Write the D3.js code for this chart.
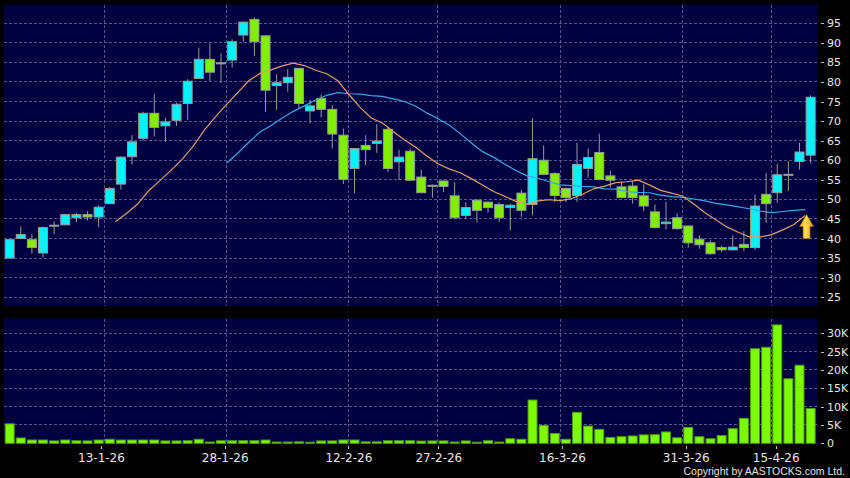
<!DOCTYPE html>
<meta charset="utf-8">
<script src="https://cdn.jsdelivr.net/npm/d3@7"></script>
<style>
  body { margin: 0; background: #000; }
  svg { display: block; }
  .grid line { stroke: #56568a; stroke-dasharray: 3,2; shape-rendering: crispEdges; }
  .axis text { fill: #e6e6e6; font-family: "DejaVu Sans", sans-serif; font-size: 11px; }
  .axis line { stroke: #bdbdbd; shape-rendering: crispEdges; }
  .axis path { display: none; }
</style>
<body>
<script>

// trading days shown on the chart
var dates = ["31-12-25","2-1-26","5-1-26","6-1-26","7-1-26","8-1-26","9-1-26","12-1-26","13-1-26","14-1-26",
  "15-1-26","16-1-26","19-1-26","20-1-26","21-1-26","22-1-26","23-1-26","26-1-26","27-1-26","28-1-26",
  "29-1-26","30-1-26","2-2-26","3-2-26","4-2-26","5-2-26","6-2-26","9-2-26","10-2-26","11-2-26",
  "12-2-26","13-2-26","16-2-26","20-2-26","23-2-26","24-2-26","25-2-26","26-2-26","27-2-26","2-3-26",
  "3-3-26","4-3-26","5-3-26","6-3-26","9-3-26","10-3-26","11-3-26","12-3-26","13-3-26","16-3-26",
  "17-3-26","18-3-26","19-3-26","20-3-26","23-3-26","24-3-26","25-3-26","26-3-26","27-3-26","30-3-26",
  "31-3-26","1-4-26","2-4-26","8-4-26","9-4-26","10-4-26","13-4-26","14-4-26","15-4-26","16-4-26",
  "17-4-26","20-4-26","21-4-26"];

var opens = [35.0,40.0,39.7,36.3,43.4,43.5,45.3,46.1,45.5,48.9,
  53.9,60.9,65.6,72.0,68.8,70.2,74.5,80.9,85.8,84.9,
  85.6,92.0,96.0,91.8,79.1,79.8,83.5,72.6,75.8,73.0,
  66.4,57.9,63.8,64.3,67.9,59.6,62.3,55.7,53.6,54.7,
  50.9,45.9,49.8,49.3,48.7,47.9,51.6,48.7,60.0,56.6,
  52.8,51.0,57.9,62.0,56.0,53.2,53.4,50.9,46.8,43.8,
  45.3,43.2,39.8,38.9,37.7,37.1,38.5,37.7,51.3,51.7,
  56.4,59.7,61.3];
var highs = [40.0,43.1,41.1,43.1,44.4,46.2,46.5,47.0,48.5,53.2,
  61.0,66.4,72.4,76.9,70.9,74.7,80.7,88.8,89.9,87.3,
  90.9,95.4,96.5,91.9,82.0,83.3,83.6,75.4,76.8,74.1,
  68.1,63.1,66.4,69.2,68.5,62.7,63.0,57.6,53.8,54.8,
  54.4,49.3,50.0,49.4,49.3,48.9,52.5,70.7,63.8,57.0,
  53.0,64.5,63.0,66.8,57.3,54.5,54.7,53.9,48.7,49.3,
  46.4,43.3,40.8,39.5,38.2,40.8,41.9,51.3,56.8,59.0,
  59.8,64.5,76.6];
var lows = [35.0,39.8,36.1,35.1,41.1,43.4,44.2,44.6,42.9,48.9,
  52.5,59.0,65.0,66.1,64.7,68.8,70.2,80.9,80.2,79.8,
  83.7,90.3,86.6,72.4,72.8,77.5,73.2,69.4,70.9,63.0,
  53.9,51.5,58.7,61.9,57.0,54.9,54.8,51.7,50.4,51.9,
  44.9,44.9,44.1,46.6,44.2,42.1,45.5,45.9,56.2,49.3,
  49.3,49.3,55.6,54.9,53.0,50.3,48.9,47.0,42.6,42.3,
  42.3,37.7,37.4,35.9,36.5,36.9,36.8,37.0,44.0,49.1,
  52.1,57.6,59.2];
var closes = [39.7,41.0,37.7,42.8,43.4,46.1,46.1,45.5,48.0,52.8,
  60.8,64.7,72.0,68.4,69.8,74.3,80.2,85.8,82.5,84.9,
  90.3,95.3,90.3,77.9,79.8,81.2,74.5,73.9,73.0,66.7,
  55.1,63.0,62.7,64.9,57.9,60.8,54.9,51.7,53.6,53.3,
  45.3,47.9,47.2,47.9,45.3,48.5,47.2,60.4,56.4,51.0,
  50.5,58.9,60.7,55.1,54.9,50.5,50.5,48.3,42.8,44.2,
  42.5,38.9,38.4,36.1,37.1,37.8,37.7,48.3,48.9,56.3,
  56.4,62.1,76.1];

var volumes = [5300,1450,900,900,650,900,700,650,900,1100,
  900,900,900,900,650,650,700,1100,350,700,
  700,700,700,900,350,350,400,300,650,650,
  900,900,400,400,700,700,700,600,650,650,
  350,650,300,700,350,1250,1100,11800,4900,2700,
  1100,8450,4700,3800,1600,1800,2000,2300,2350,3100,
  1500,4350,1800,1250,2100,4000,6800,25800,26200,32300,
  17600,21300,9500];

// moving averages as drawn (10-day from day 9, 20-day from day 19)
var ma10Start = 9;
var ma10 = [44.3,46.4,48.8,52.2,54.8,57.4,60.2,63.6,67.7,71.1,
  74.3,77.3,80.3,82.2,83.1,84.1,84.8,84.2,83.0,82.1,
  80.3,76.8,73.5,70.8,69.5,67.3,65.2,63.3,61.1,59.1,
  57.8,56.8,55.3,53.7,52.0,50.8,49.5,48.8,49.6,49.9,
  49.7,50.2,51.3,52.7,53.4,54.3,54.5,54.9,53.7,52.3,
  51.6,50.8,48.8,46.6,44.7,42.9,41.6,40.4,40.4,41.0,
  42.2,43.6,45.9];
var ma20Start = 19;
var ma20 = [59.3,61.8,64.6,67.2,68.9,70.8,72.5,73.9,75.4,76.6,
  77.3,77.0,76.9,76.5,76.3,75.7,75.0,73.8,72.1,70.6,
  69.0,66.8,64.4,62.2,60.8,59.0,57.4,56.0,55.4,54.5,
  53.7,53.5,53.3,53.2,52.7,52.6,52.0,51.8,51.7,51.1,
  50.7,50.5,50.1,49.6,49.0,48.6,48.1,47.6,47.0,46.6,
  46.9,47.2,47.4];

var priceTicks = [25,30,35,40,45,50,55,60,65,70,75,80,85,90,95];
var volumeTicks = [0,5000,10000,15000,20000,25000,30000];
var dateTicks = ["13-1-26","28-1-26","12-2-26","27-2-26","16-3-26","31-3-26","15-4-26"];

var width = 850,
    height = 478,
    left = 4,
    right = 817.5,
    priceTop = 5,
    priceBottom = 306,
    volTop = 318.5,
    volBottom = 444;

var candles = dates.map(function(d, i) {
  return {date: d, o: opens[i], h: highs[i], l: lows[i], c: closes[i], v: volumes[i]};
});

var x = d3.scaleBand()
    .domain(dates)
    .range([4.1, 816.2]);
var step = x.step();
function cx(d) { return x(d) + step / 2; }

// label positions run on a slightly wider scale than the bars
var tx = d3.scaleLinear().domain([0, dates.length - 1]).range([11.0, 820.7]);

var y = d3.scaleLinear().domain([25, 95]).range([297.2, 23.3]);
var yv = d3.scaleLinear().domain([0, 30000]).range([443.3, 333.3]);

var svg = d3.select("body").append("svg")
    .attr("width", width)
    .attr("height", height);

svg.append("rect")
    .attr("width", width).attr("height", height)
    .attr("fill", "#000");

// panels
svg.append("rect")
    .attr("x", left).attr("y", priceTop)
    .attr("width", right - left).attr("height", priceBottom - priceTop)
    .attr("fill", "#000040");
svg.append("rect")
    .attr("x", left).attr("y", volTop)
    .attr("width", right - left).attr("height", volBottom - volTop)
    .attr("fill", "#000040");

// grid
var grid = svg.append("g").attr("class", "grid");
grid.selectAll(".hp")
    .data(priceTicks)
    .enter().append("line")
    .attr("x1", left).attr("x2", right)
    .attr("y1", function(d) { return y(d); })
    .attr("y2", function(d) { return y(d); });
grid.selectAll(".hv")
    .data(volumeTicks.slice(1))
    .enter().append("line")
    .attr("x1", left).attr("x2", right)
    .attr("y1", function(d) { return yv(d); })
    .attr("y2", function(d) { return yv(d); });
dateTicks.forEach(function(t) {
  var gx = x(t) + step;
  grid.append("line")
      .attr("x1", gx).attr("x2", gx)
      .attr("y1", priceTop).attr("y2", priceBottom);
  grid.append("line")
      .attr("x1", gx).attr("x2", gx)
      .attr("y1", volTop).attr("y2", volBottom);
});

// candles
var candleStroke = "#9a9a9a";
var cg = svg.append("g");
cg.selectAll(".wick")
    .data(candles)
    .enter().append("line")
    .attr("x1", function(d) { return cx(d.date); })
    .attr("x2", function(d) { return cx(d.date); })
    .attr("y1", function(d) { return y(d.h); })
    .attr("y2", function(d) { return y(d.l); })
    .attr("stroke", candleStroke)
    .attr("stroke-width", 1);

cg.selectAll(".body")
    .data(candles)
    .enter().append("rect")
    .attr("x", function(d) { return cx(d.date) - 4.5; })
    .attr("width", 9)
    .attr("y", function(d) { return y(Math.max(d.o, d.c)); })
    .attr("height", function(d) { return Math.max(1, Math.abs(y(d.o) - y(d.c))); })
    .attr("fill", function(d) {
      if (d.c > d.o) return "#00f4ff";
      if (d.c < d.o) return "#80f000";
      return candleStroke;
    })
    .attr("stroke", candleStroke)
    .attr("stroke-width", 1);

// moving averages
var line = d3.line()
    .x(function(d) { return x(d.date) + step; })
    .y(function(d) { return y(d.v); });

var ma10Pts = ma10.map(function(v, i) { return {date: dates[ma10Start + i], v: v}; });
var ma20Pts = ma20.map(function(v, i) { return {date: dates[ma20Start + i], v: v}; });

svg.append("path")
    .datum(ma20Pts)
    .attr("d", line)
    .attr("fill", "none")
    .attr("stroke", "#3fa2e6")
    .attr("stroke-width", 1.2);
svg.append("path")
    .datum(ma10Pts)
    .attr("d", line)
    .attr("fill", "none")
    .attr("stroke", "#e39a6e")
    .attr("stroke-width", 1.2);

// up arrow marker
var defs = svg.append("defs");
var grad = defs.append("linearGradient")
    .attr("id", "arrowGrad")
    .attr("x1", "0%").attr("x2", "100%").attr("y1", "0%").attr("y2", "0%");
grad.append("stop").attr("offset", "0%").attr("stop-color", "#f5b800");
grad.append("stop").attr("offset", "45%").attr("stop-color", "#ffe24a");
grad.append("stop").attr("offset", "100%").attr("stop-color", "#e09400");

var ax = x(dates[dates.length - 1]) + 1.5,
    ay = y(ma20[ma20.length - 1]) + 5;
svg.append("path")
    .attr("d", "M" + ax + "," + ay +
      "L" + (ax + 7) + "," + (ay + 12) +
      "L" + (ax + 3.5) + "," + (ay + 12) +
      "L" + (ax + 3.5) + "," + (ay + 24) +
      "L" + (ax - 3.5) + "," + (ay + 24) +
      "L" + (ax - 3.5) + "," + (ay + 12) +
      "L" + (ax - 7) + "," + (ay + 12) + "Z")
    .attr("fill", "url(#arrowGrad)")
    .attr("stroke", "#a87000")
    .attr("stroke-width", 0.6);

// volume bars
svg.append("g").selectAll("rect")
    .data(candles)
    .enter().append("rect")
    .attr("x", function(d) { return cx(d.date) - 4.5; })
    .attr("width", 9)
    .attr("y", function(d) { return yv(d.v); })
    .attr("height", function(d) { return yv(0) - yv(d.v); })
    .attr("fill", "#7cfc00")
    .attr("stroke", "#4f9a10")
    .attr("stroke-width", 1);

// axes
svg.append("g")
    .attr("class", "axis")
    .attr("transform", "translate(821,0)")
    .call(d3.axisRight(y).tickValues(priceTicks).tickSize(3).tickPadding(3));

svg.append("g")
    .attr("class", "axis")
    .attr("transform", "translate(821,0)")
    .call(d3.axisRight(yv).tickValues(volumeTicks).tickSize(3).tickPadding(3)
      .tickFormat(function(d) { return d === 0 ? "0" : (d / 1000) + "K"; }));

svg.append("g")
    .attr("class", "axis")
    .attr("transform", "translate(0,446)")
    .call(d3.axisBottom(tx)
      .tickValues(dateTicks.map(function(t) { return dates.indexOf(t); }))
      .tickFormat(function(i) { return dates[i]; })
      .tickSize(3).tickPadding(4))
    .selectAll("text")
    .style("font-size", "12px");

svg.append("text")
    .attr("x", 845)
    .attr("y", 475)
    .attr("text-anchor", "end")
    .style("font-family", "'Liberation Sans', Arial, sans-serif")
    .style("font-size", "10.5px")
    .style("fill", "#e0e0e0")
    .text("Copyright by AASTOCKS.com Ltd.");

</script>
</body>
